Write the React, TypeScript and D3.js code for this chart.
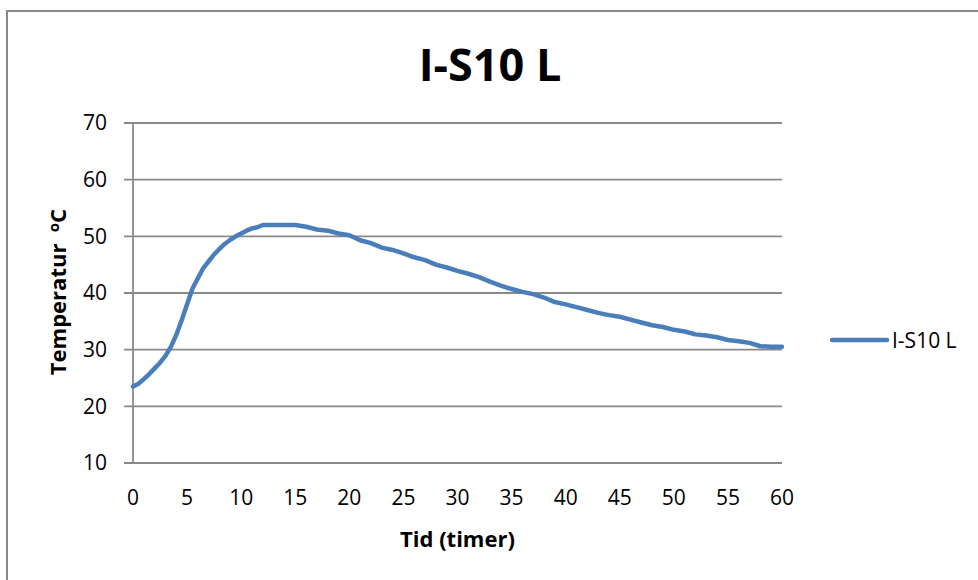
import React from "react";
import * as d3 from "d3";

const hours: number[] = [
  0, 0.5, 1, 1.5, 2, 2.5, 3, 3.5, 4, 4.5, 5, 5.5, 6, 6.5, 7, 7.5, 8, 8.5, 9, 9.5, 10, 10.5, 11, 11.5,
  12, 13, 14, 15, 16, 17, 18, 19, 20,
  21, 22, 23, 24, 25, 26, 27, 28, 29, 30, 31, 32, 33, 34, 35, 36, 37, 38, 39, 40,
  41, 42, 43, 44, 45, 46, 47, 48, 49, 50, 51, 52, 53, 54, 55, 56, 57, 58, 59, 60,
];
const temps: number[] = [
  23.5, 24, 24.8, 25.7, 26.7, 27.7, 28.9, 30.5, 32.6, 35.2, 38, 40.8, 42.6, 44.4, 45.6, 46.8, 47.8, 48.7, 49.4, 50, 50.5, 51, 51.4, 51.6,
  52, 52, 52, 52, 51.7, 51.2, 51, 50.5, 50.2,
  49.3, 48.8, 48, 47.6, 47, 46.3, 45.8, 45, 44.5, 43.9, 43.4, 42.8, 42, 41.3, 40.7, 40.2, 39.8, 39.2, 38.4, 38,
  37.5, 37, 36.5, 36.1, 35.8, 35.3, 34.8, 34.3, 34, 33.5, 33.2, 32.7, 32.5, 32.2, 31.7, 31.5, 31.2, 30.6, 30.5, 30.5,
];
const xTicks: number[] = [0, 5, 10, 15, 20, 25, 30, 35, 40, 45, 50, 55, 60];
const yTicks: number[] = [10, 20, 30, 40, 50, 60, 70];
const seriesName = "I-S10 L";
const chartTitle = "I-S10 L";
const xTitle = "Tid (timer)";

export default function App() {
  const W = 978, H = 580;
  const left = 133, right = 782, top = 123, bottom = 463;
  const x = d3.scaleLinear().domain([0, 60]).range([left, right]);
  const y = d3.scaleLinear().domain([10, 70]).range([bottom, top]);
  const data = hours.map((h, i) => [h, temps[i]] as [number, number]);
  const line = d3.line<[number, number]>().x(d => x(d[0])).y(d => y(d[1]));
  const grid = "#898989";
  const font = "'Open Sans', sans-serif";
  const blue = "#4A7EBB";
  return (
    <div style={{ position: "absolute", left: 0, top: 0 }}>
      <svg width={W} height={H} style={{ display: "block", background: "#fff" }}>
        <rect x={7} y={11} width={1000} height={620} fill="#fff" stroke={grid} strokeWidth={2} />
        <text x={490} y={81} textAnchor="middle" fontFamily={font} fontWeight="bold" fontSize={45}>{chartTitle}</text>
        {yTicks.map(t => (
          <g key={t}>
            <line x1={left - 9} x2={right} y1={y(t)} y2={y(t)} stroke={grid} strokeWidth={1.8} />
            <text x={107} y={y(t)} dy="0.35em" textAnchor="end" fontFamily={font} fontSize={21}>{t}</text>
          </g>
        ))}
        <line x1={left} x2={left} y1={top} y2={bottom} stroke={grid} strokeWidth={1.8} />
        {xTicks.map(t => (
          <text key={t} x={x(t)} y={498} dy="0.35em" textAnchor="middle" fontFamily={font} fontSize={21}>{t}</text>
        ))}
        <text x={(left + right) / 2} y={539} dy="0.35em" textAnchor="middle" fontFamily={font} fontWeight="bold" fontSize={22}>{xTitle}</text>
        <text transform={`translate(66, 292) rotate(-90)`} textAnchor="middle" fontFamily={font} fontWeight="bold" fontSize={22}>
          Temperatur{"\u00A0\u00A0"}<tspan dy="-7" fontSize={15}>o</tspan><tspan dy="7">C</tspan>
        </text>
        <path d={line(data) || ""} fill="none" stroke={blue} strokeWidth={4.5} strokeLinejoin="round" strokeLinecap="round" />
        <line x1={832} x2={887} y1={340} y2={340} stroke={blue} strokeWidth={4.5} strokeLinecap="round" />
        <text x={892} y={341} dy="0.35em" fontFamily={font} fontSize={21}>{seriesName}</text>
      </svg>
    </div>
  );
}
